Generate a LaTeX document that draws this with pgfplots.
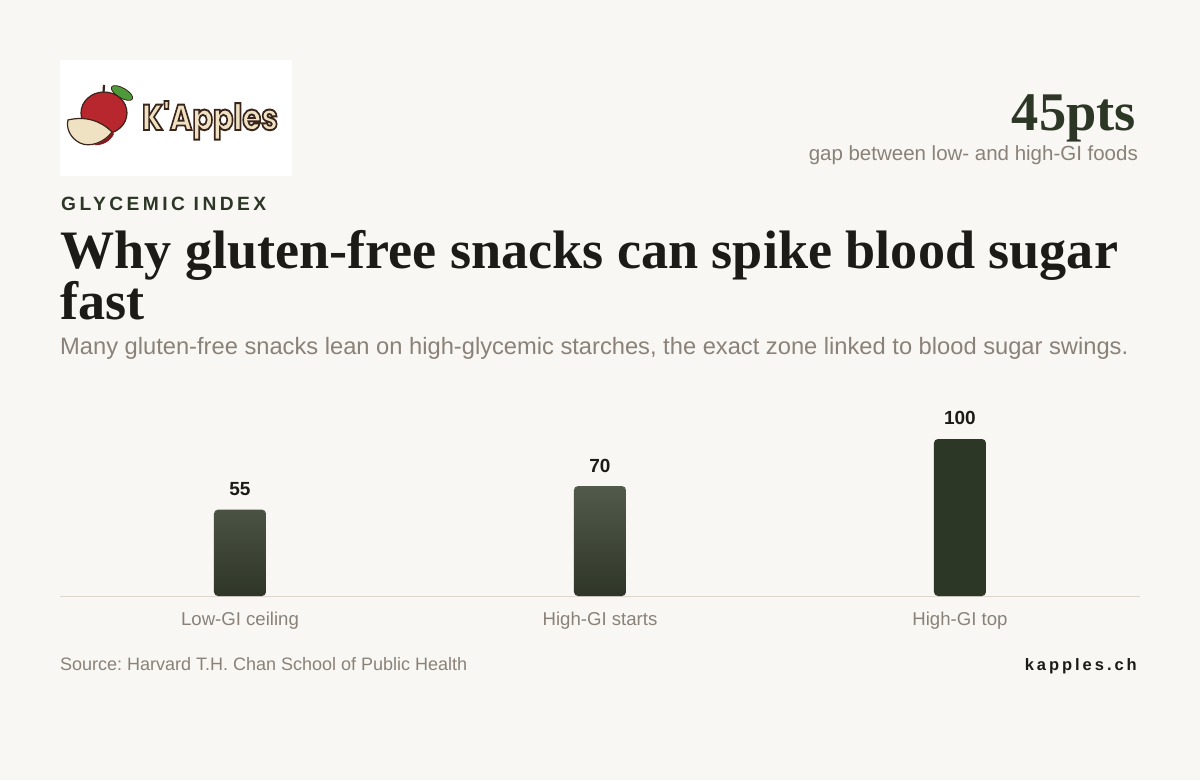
\documentclass[border=0pt]{standalone}
\usepackage{pgfplots}
\pgfplotsset{compat=1.18}
\usepackage{fontspec}
\setmainfont{Liberation Sans}
\newfontfamily\serifB{Liberation Serif}
\newfontfamily\spacedfont[LetterSpace=18]{Liberation Sans}
\newfontfamily\logofont{Poppins}
\definecolor{bgc}{HTML}{F8F7F3}
\definecolor{darkg}{HTML}{2D3726}
\definecolor{gtop}{HTML}{525A4B}
\definecolor{gbot}{HTML}{2F3627}
\definecolor{graytxt}{HTML}{8A8178}
\definecolor{linec}{HTML}{DED6CC}
\definecolor{ink}{HTML}{1C1B17}
\definecolor{applered}{HTML}{B8262E}
\definecolor{cream}{HTML}{EFE2C2}
\definecolor{leafg}{HTML}{4E9A3A}
\definecolor{outline}{HTML}{3A241C}
\newsavebox\tboxA
\newlength\twA
\frenchspacing
\begin{document}
\frenchspacing
\sbox\tboxA{\serifB\bfseries\fontsize{50}{50}\selectfont Why gluten-free snacks can spike blood sugar}%
\setlength\twA{\wd\tboxA}%
\pgfmathsetmacro\tsc{1058/\twA}%
\begin{tikzpicture}[x=1pt,y=1pt]
\fill[bgc] (0,0) rectangle (1200,780);
\useasboundingbox (0,0) rectangle (1200,780);
% logo
\fill[white] (60,604) rectangle (292,720);
\fill[leafg, draw=outline, line width=0.8, rotate around={-30:(122,687)}] (122,687) ellipse (12 and 5);
\draw[outline, line width=2.2] (103,680) -- (104,695);
\fill[applered, draw=outline, line width=1.2] (104,667) ellipse (23 and 21);
\fill[cream, draw=outline, line width=1.2] (68,660) .. controls (85,664) and (100,660) .. (112,648) .. controls (105,638) and (90,632) .. (80,637) .. controls (70,642) and (66,652) .. (68,660) -- cycle;
\fill[applered!70!black] (112,648) .. controls (108,641) and (100,637) .. (93,635) .. controls (102,634) and (110,638) .. (114,646) -- cycle;
\node[text=cream, anchor=base, inner sep=0] at (210,650) {\resizebox{136pt}{29pt}{\logofont\bfseries\fontsize{30}{30}\selectfont\special{pdf:literal direct 2 Tr 1.6 w 0.227 0.141 0.110 RG}K'Apples\special{pdf:literal direct 0 Tr}}};
% header texts
\node[anchor=base east, inner sep=0, text=darkg] at (1136,649) {\resizebox{124pt}{!}{\serifB\bfseries\fontsize{52}{52}\selectfont 45pts}};
\node[anchor=base east, inner sep=0, text=graytxt] at (1138,619) {\resizebox{329pt}{!}{\fontsize{17}{17}\selectfont gap between low- and high-GI foods}};
\node[anchor=base west, inner sep=0, text=darkg] at (61,569) {\resizebox{205pt}{!}{\spacedfont\bfseries\fontsize{16}{16}\selectfont GLYCEMIC INDEX}};
\node[anchor=base west, inner sep=0, text=ink] at (60,511) {\scalebox{\tsc}{\serifB\bfseries\fontsize{50}{50}\selectfont Why gluten-free snacks can spike blood sugar}};
\node[anchor=base west, inner sep=0, text=ink] at (60,460) {\scalebox{\tsc}{\serifB\bfseries\fontsize{50}{50}\selectfont fast}};
\node[anchor=base west, inner sep=0, text=graytxt] at (60,425) {\resizebox{1068pt}{!}{\fontsize{20}{20}\selectfont Many gluten-free snacks lean on high-glycemic starches, the exact zone linked to blood sugar swings.}};
% footer
\node[anchor=base west, inner sep=0, text=graytxt] at (60,110) {\resizebox{407pt}{!}{\fontsize{16}{16}\selectfont Source: Harvard T.H. Chan School of Public Health}};
\node[anchor=base east, inner sep=0, text=ink] at (1137,110) {\resizebox{112pt}{!}{\spacedfont\bfseries\fontsize{16}{16}\selectfont kapples.ch}};
% chart
\begin{axis}[
  at={(60pt,184pt)}, anchor=south west,
  scale only axis, width=1080pt, height=188.4pt,
  xmin=-0.5, xmax=2.5, ymin=0, ymax=120,
  axis y line=none, axis x line*=bottom,
  x axis line style={draw=linec, line width=1pt},
  xtick={0,1,2}, xticklabels={Low-GI ceiling, High-GI starts, High-GI top},
  major tick length=0pt,
  xticklabel style={anchor=base, yshift=-29pt, inner sep=0pt, text=graytxt, font=\fontsize{18.6}{18.6}\selectfont},
  ytick=\empty,
  clip=false,
  /pgf/number format/assume math mode=true,
  ybar, bar width=52pt,
  nodes near coords,
  nodes near coords style={anchor=base, inner sep=0pt, yshift=14pt, text=ink, font=\bfseries\fontsize{19}{19}\selectfont},
]
\addplot[draw=none, top color=gtop, bottom color=gbot, rounded corners=4pt, bar shift=0pt] coordinates {(0,55) (1,70)};
\addplot[draw=none, fill=darkg, rounded corners=4pt, bar shift=0pt] coordinates {(2,100)};
\end{axis}
\end{tikzpicture}
\end{document}
